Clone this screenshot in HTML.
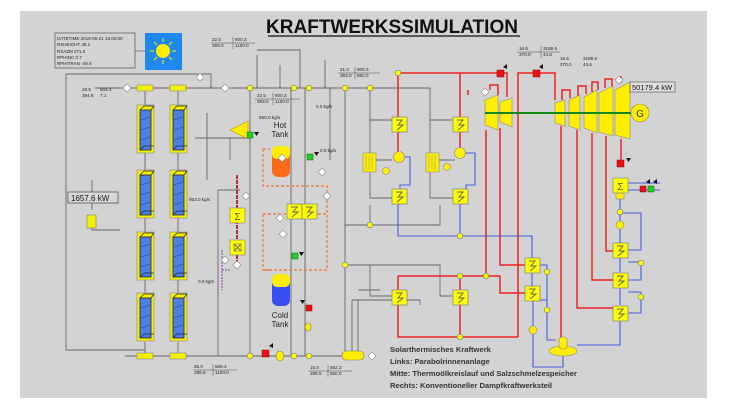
<!DOCTYPE html>
<html><head><meta charset="utf-8"><style>
body{margin:0;background:#fff;}
svg{display:block;font-family:"Liberation Sans",sans-serif;}
</style></head><body>
<svg width="730" height="411" viewBox="0 0 730 411" xmlns="http://www.w3.org/2000/svg">
<defs>
<g id="hx"><rect x="0" y="0" width="15" height="15" fill="#ffff00" stroke="#888" stroke-width="0.8"/><path d="M4 3 L10 3 L6 8 L11 8 L5 13" fill="none" stroke="#666" stroke-width="1"/></g>
<g id="col"><rect x="0" y="0" width="17" height="48" fill="#f5f000" stroke="#999" stroke-width="0.8"/><rect x="3" y="5" width="11" height="40" fill="#4f7fe8" stroke="#223" stroke-width="0.8"/><path d="M3 5 L7 1 L17 1 M14 5 L17 1 M3 45 L7 41 L17 41" fill="none" stroke="#223" stroke-width="0.7"/><path d="M4 15 L13 12 M4 25 L13 22 M4 35 L13 32" stroke="#223" stroke-width="0.4"/></g>
<g id="yd"><circle r="2.8" fill="#ffff00" stroke="#777" stroke-width="0.6"/></g>
<g id="wd"><path d="M-4 0 L0 -4 L4 0 L0 4Z" fill="#fff" stroke="#888" stroke-width="0.6"/></g>
</defs>
<rect width="730" height="411" fill="#fff"/>
<rect x="20" y="11" width="687" height="387" fill="#d3d3d3"/>
<!-- title -->
<text x="392" y="33" font-size="19" font-weight="bold" text-anchor="middle" fill="#111">KRAFTWERKSSIMULATION</text>
<line x1="268" y1="36" x2="520" y2="36" stroke="#111" stroke-width="1.2"/>
<!-- info -->
<rect x="55" y="33" width="80" height="35" fill="none" stroke="#555" stroke-width="0.7"/>
<g font-size="4.5" fill="#222"><text x="57" y="40">DATETIME 2016-06-21 16:00:00</text><text x="57" y="46">RSHEIGHT 48.1</text><text x="57" y="53">RSAZM  271.0</text><text x="57" y="59">RPHINC 0.7</text><text x="57" y="65">RPHITRAN -49.9</text></g>
<line x1="135" y1="51" x2="163" y2="51" stroke="#333" stroke-width="0.6"/>
<rect x="145" y="33" width="37" height="37" fill="#1e88ee"/>
<circle cx="163" cy="51" r="7" fill="#ffee00"/>
<g stroke="#ffee00" stroke-width="1"><path d="M163 38v4M163 60v4M150 51h4M172 51h4M154 42l3 3M172 42l-3 3M154 60l3-3M172 60l-3-3"/></g>
<!-- grey pipes left -->
<g fill="none" stroke="#666" stroke-width="0.9">
<path d="M66 74 H211 V88"/><path d="M66 74 V350 H145"/>
<path d="M92 210 V180 M92 228 V230 H120"/>
<path d="M95 88 H345"/><path d="M125 356 H360"/>
<path d="M145 88 V105 M145 153 V170 M145 218 V232 M145 280 V293 M145 342 V356"/>
<path d="M178 88 V105 M178 153 V170 M178 218 V232 M178 280 V293 M178 342 V356"/>
<path d="M207 113 V180 M195 138 H250 M207 138 H230"/>
<path d="M250 88 V356 M257 55 V88 M257 50 H300 V88 M280 65 V88 M325 60 V88"/>
<path d="M230 138 V160 M218 190 V356 M218 190 H240"/>
<path d="M291 88 V356 M305 88 V356 M330 88 V160"/>
<path d="M345 88 V356 M352 300 V356 M358 300 V356"/>
<path d="M345 88 H430 V120 H453 M370 88 V120 H392"/>
<path d="M370 120 V135 M370 175 V198 H392 M430 120 V135 M430 175 V198 H453 M370 135 V175 M430 135 V175"/>
<path d="M376 160 H392 M439 160 H455"/>
<path d="M345 225 H370 M370 225 V205 M345 225 H440 V205"/>
<path d="M345 265 H440 V296 H453 M370 265 V296 H392"/>
<path d="M352 300 H420 V305 M358 290 H380"/>
</g>
<!-- collectors -->
<use href="#col" x="137" y="105"/><use href="#col" x="170" y="105"/>
<use href="#col" x="137" y="170"/><use href="#col" x="170" y="170"/>
<use href="#col" x="137" y="232"/><use href="#col" x="170" y="232"/>
<use href="#col" x="137" y="293"/><use href="#col" x="170" y="293"/>
<g fill="#f5f000" stroke="#888" stroke-width="0.6"><rect x="137" y="85" width="16" height="6"/><rect x="170" y="85" width="16" height="6"/><rect x="137" y="353" width="16" height="6"/><rect x="170" y="353" width="16" height="6"/></g>
<rect x="68" y="192" width="50" height="11" fill="#d8d8d8" stroke="#444" stroke-width="0.7"/>
<text x="71" y="201" font-size="8" fill="#111">1657.6 kW</text>
<rect x="87" y="215" width="9" height="13" fill="#f5f000" stroke="#777" stroke-width="0.6"/>
<!-- labels -->
<g font-size="4.6" fill="#222">
<text x="82" y="91">29.5</text><text x="100" y="91">804.4</text><text x="82" y="97">394.6</text><text x="100" y="97">7.1</text>
<text x="212" y="41">22.5</text><text x="235" y="41">800.3</text><text x="212" y="47">393.0</text><text x="235" y="47">1100.0</text>
<text x="257" y="97">22.5</text><text x="275" y="97">800.3</text><text x="257" y="103">393.0</text><text x="275" y="103">1100.0</text>
<text x="340" y="71">21.0</text><text x="357" y="71">800.3</text><text x="340" y="77">393.0</text><text x="357" y="77">550.0</text>
<text x="519" y="50">16.5</text><text x="543" y="50">3188.6</text><text x="519" y="56">370.0</text><text x="543" y="56">44.6</text>
<text x="560" y="60">16.5</text><text x="583" y="60">3188.6</text><text x="560" y="66">370.0</text><text x="583" y="66">44.6</text>
<text x="194" y="368">35.0</text><text x="215" y="368">569.3</text><text x="194" y="374">298.8</text><text x="215" y="374">1100.0</text>
<text x="310" y="369">15.0</text><text x="330" y="369">562.2</text><text x="310" y="375">295.5</text><text x="330" y="375">550.0</text>
<text x="316" y="108">0.0 kg/s</text><text x="259" y="119">550.0 kg/s</text><text x="320" y="152">0.0 kg/s</text>
<text x="189" y="201">953.0 kg/s</text><text x="198" y="283">0.0 kg/s</text>
</g>
<g stroke="#444" stroke-width="0.5"><path d="M211 43H255M233 37V49M255 99H300M273 93V105M338 73H380M355 67V79M517 52H560M541 46V58M193 370H237M213 364V376M308 371H352M328 365V377"/></g>
<text x="280" y="128" font-size="8" text-anchor="middle" fill="#222">Hot</text><text x="280" y="137" font-size="8" text-anchor="middle" fill="#222">Tank</text>
<text x="280" y="318" font-size="8" text-anchor="middle" fill="#222">Cold</text><text x="280" y="327" font-size="8" text-anchor="middle" fill="#222">Tank</text>
<!-- orange dashed loops -->
<g fill="none" stroke="#e8804a" stroke-width="1.4" stroke-dasharray="3,2">
<path d="M263 149 H270 M263 149 V186 H327 V230 M263 214 V270 H270 M263 214 H327 V270 H263"/>
</g>
<path d="M237 175 V240 M237 255 V262" stroke="#b03030" stroke-width="2" stroke-dasharray="4,1"/>
<path d="M222 250 V290 M222 270 H230" stroke="#9040a0" stroke-width="1" stroke-dasharray="2,1" fill="none"/>
<!-- tanks -->
<rect x="272" y="146" width="18" height="31" rx="6" fill="#ff6a1a"/><rect x="272" y="146" width="18" height="13" rx="5" fill="#ffee00"/>
<rect x="272" y="274" width="18" height="32" rx="6" fill="#3850f0"/><rect x="272" y="274" width="18" height="13" rx="5" fill="#ffee00"/>
<!-- middle components -->
<rect x="230" y="208" width="15" height="15" fill="#ffff00" stroke="#888" stroke-width="0.7"/><text x="237.5" y="220" font-size="10" text-anchor="middle" fill="#555">Σ</text>
<rect x="230" y="240" width="15" height="15" fill="#ffff00" stroke="#888" stroke-width="0.7"/><path d="M234 244l7 7M241 244l-7 7" stroke="#666"/><rect x="234" y="244" width="7" height="7" fill="none" stroke="#666" stroke-width="0.6"/>
<use href="#hx" x="287" y="204"/><use href="#hx" x="302" y="204"/>
<path d="M230 130 L248 121 V139Z" fill="#ffee00" stroke="#aa9900" stroke-width="0.6"/>
<!-- red pipes -->
<g fill="none" stroke="#ee2222" stroke-width="1.5">
<path d="M398 117 V73 H507 V97 M460 73 V117"/>
<path d="M398 132 V152 M460 132 V148"/>
<path d="M518 337 V73 H555 V100"/>
<path d="M486 130 V276 M500 128 V265 H525"/>
<path d="M398 276 H500 V293 H525 M398 276 V337 H518 M460 276 V337"/>
<path d="M561 126 V340 M577 130 V308 H613 M592 133 V280 H613 M606 136 V251 H613 M621 139 V163"/>
<path d="M468 90 V95 M490 90 V85 H498 V95 M562 100 V90 H570 V98 M578 96 V86 H586 V94 M592 92 V82 H598 V90 M605 88 V79 H612 V86 M621 83 V76"/>
</g>
<!-- blue pipes -->
<g fill="none" stroke="#4a5cd8" stroke-width="1.1">
<path d="M404 157 H410 V185 H400 V189 M465 153 H475 V185 H466 V189"/>
<path d="M398 204 V236 H532 V258 M460 204 V236"/>
<path d="M532 273 V286 M533 301 V326 M533 334 V367 H563 V356"/>
<path d="M540 265 H547 V300 H540 M547 300 V340 H556"/>
<path d="M620 193 V243 M620 258 V272 M620 287 V305 M628 250 H641 V213 H620 M628 262 H641 V280 H628 M628 292 H641 V313 H628 M620 320 V345 H577 M628 183 H660 M628 190 H660 M620 193 V200"/>
</g>
<g fill="#22cc22" stroke="#116611" stroke-width="0.5"><rect x="247" y="132" width="6" height="6"/><rect x="307" y="154" width="6" height="6"/><rect x="292" y="253" width="6" height="6"/><rect x="648" y="186" width="6" height="6"/></g>
<g fill="#ee1111" stroke="#771111" stroke-width="0.5"><rect x="262" y="350" width="7" height="7"/><rect x="306" y="305" width="6" height="6"/><rect x="497" y="70" width="7" height="7"/><rect x="533" y="70" width="7" height="7"/><rect x="617" y="160" width="7" height="7"/><rect x="640" y="186" width="6" height="6"/></g>
<g fill="#111"><path d="M269 346 l4 -3 v5z M277 54 l0 0 M503 67 l4 -3 v5z M539 67 l4 -3 v5z M626 158 l5 0 l-2.5 4z M646 182 l4 -3 v5z M653 182 l4 -3 v5z M254 132 l5 0 l-2.5 4z M314 152 l5 0 l-2.5 4z M299 252 l5 0 l-2.5 4z M300 300 l5 0 l-2.5 4z"/></g>
<g fill="#ffee00" stroke="#777" stroke-width="0.6"><ellipse cx="280" cy="356" rx="4" ry="5"/><ellipse cx="308" cy="327" rx="3" ry="4"/><rect x="342" y="351" width="22" height="9" rx="4"/></g>
<g><use href="#yd" x="250" y="88"/><use href="#yd" x="294" y="88"/><use href="#yd" x="309" y="88"/><use href="#yd" x="345" y="88"/><use href="#yd" x="370" y="88"/><use href="#yd" x="250" y="356"/><use href="#yd" x="294" y="356"/><use href="#yd" x="309" y="356"/><use href="#yd" x="345" y="265"/><use href="#yd" x="370" y="225"/><use href="#yd" x="460" y="236"/><use href="#yd" x="398" y="73"/><use href="#yd" x="460" y="276"/><use href="#yd" x="486" y="276"/><use href="#yd" x="460" y="337"/><use href="#yd" x="547" y="272"/><use href="#yd" x="547" y="310"/><use href="#yd" x="641" y="263"/><use href="#yd" x="641" y="297"/><use href="#yd" x="620" y="212"/></g>
<g><use href="#wd" x="127" y="88"/><use href="#wd" x="225" y="88"/><use href="#wd" x="200" y="77"/><use href="#wd" x="246" y="196"/><use href="#wd" x="327" y="196"/><use href="#wd" x="280" y="218"/><use href="#wd" x="282" y="158"/><use href="#wd" x="322" y="172"/><use href="#wd" x="225" y="260"/><use href="#wd" x="237" y="265"/><use href="#wd" x="283" y="234"/><use href="#wd" x="372" y="356"/><use href="#wd" x="485" y="92"/><use href="#wd" x="619" y="80"/></g>
<!-- radiators/pumps -->
<g fill="#ffee00" stroke="#888" stroke-width="0.6">
<rect x="363" y="153" width="13" height="19"/><rect x="426" y="153" width="13" height="19"/>
<circle cx="399" cy="157" r="5.5"/><circle cx="460" cy="153" r="5.5"/><circle cx="386" cy="171" r="3.5"/><circle cx="447" cy="167" r="3.5"/>
<circle cx="533" cy="330" r="4"/><circle cx="620" cy="225" r="4"/>
<ellipse cx="563" cy="351" rx="14" ry="5"/><rect x="559" y="337" width="8" height="12" rx="3"/>
<rect x="616" y="193" width="8" height="6"/>
</g>
<g stroke="#888" stroke-width="0.5"><path d="M366 155v15M369 155v15M372 155v15M429 155v15M432 155v15M435 155v15"/></g>
<!-- turbines -->
<g fill="#ffee00" stroke="#888" stroke-width="0.6">
<path d="M485 100 L498 95 V130 L485 125Z"/><path d="M500 102 L512 98 V127 L500 122Z"/>
<path d="M555 103 L565 100 V126 L555 123Z"/><path d="M569 100 L580 95 V130 L569 126Z"/><path d="M584 97 L597 90 V133 L584 128Z"/><path d="M599 93 L613 86 V136 L599 132Z"/><path d="M615 90 L630 82 V139 L615 135Z"/>
<circle cx="640" cy="113" r="9"/>
</g>
<line x1="485" y1="113" x2="631" y2="113" stroke="#118811" stroke-width="2"/>
<text x="640" y="117" font-size="10" text-anchor="middle" fill="#333">G</text>
<rect x="630" y="82" width="45" height="10" fill="#e0e0e0" stroke="#444" stroke-width="0.6"/>
<text x="632" y="90" font-size="7.5" fill="#111">50179.4 kW</text>
<!-- HX symbols -->
<use href="#hx" x="392" y="117"/><use href="#hx" x="453" y="117"/>
<use href="#hx" x="392" y="189"/><use href="#hx" x="453" y="189"/>
<use href="#hx" x="392" y="290"/><use href="#hx" x="453" y="290"/>
<use href="#hx" x="525" y="258"/><use href="#hx" x="525" y="286"/>
<use href="#hx" x="613" y="243"/><use href="#hx" x="613" y="273"/><use href="#hx" x="613" y="306"/>
<rect x="613" y="178" width="15" height="15" fill="#ffff00" stroke="#888" stroke-width="0.7"/><text x="620.5" y="190" font-size="10" text-anchor="middle" fill="#555">Σ</text>
<!-- text block -->
<g font-size="7.6" font-weight="bold" fill="#333">
<text x="390" y="352">Solarthermisches Kraftwerk</text>
<text x="390" y="364">Links: Parabolrinnenanlage</text>
<text x="390" y="376">Mitte: Thermoölkreislauf und Salzschmelzespeicher</text>
<text x="390" y="388">Rechts: Konventioneller Dampfkraftwerksteil</text>
</g>
</svg>
</body></html>
